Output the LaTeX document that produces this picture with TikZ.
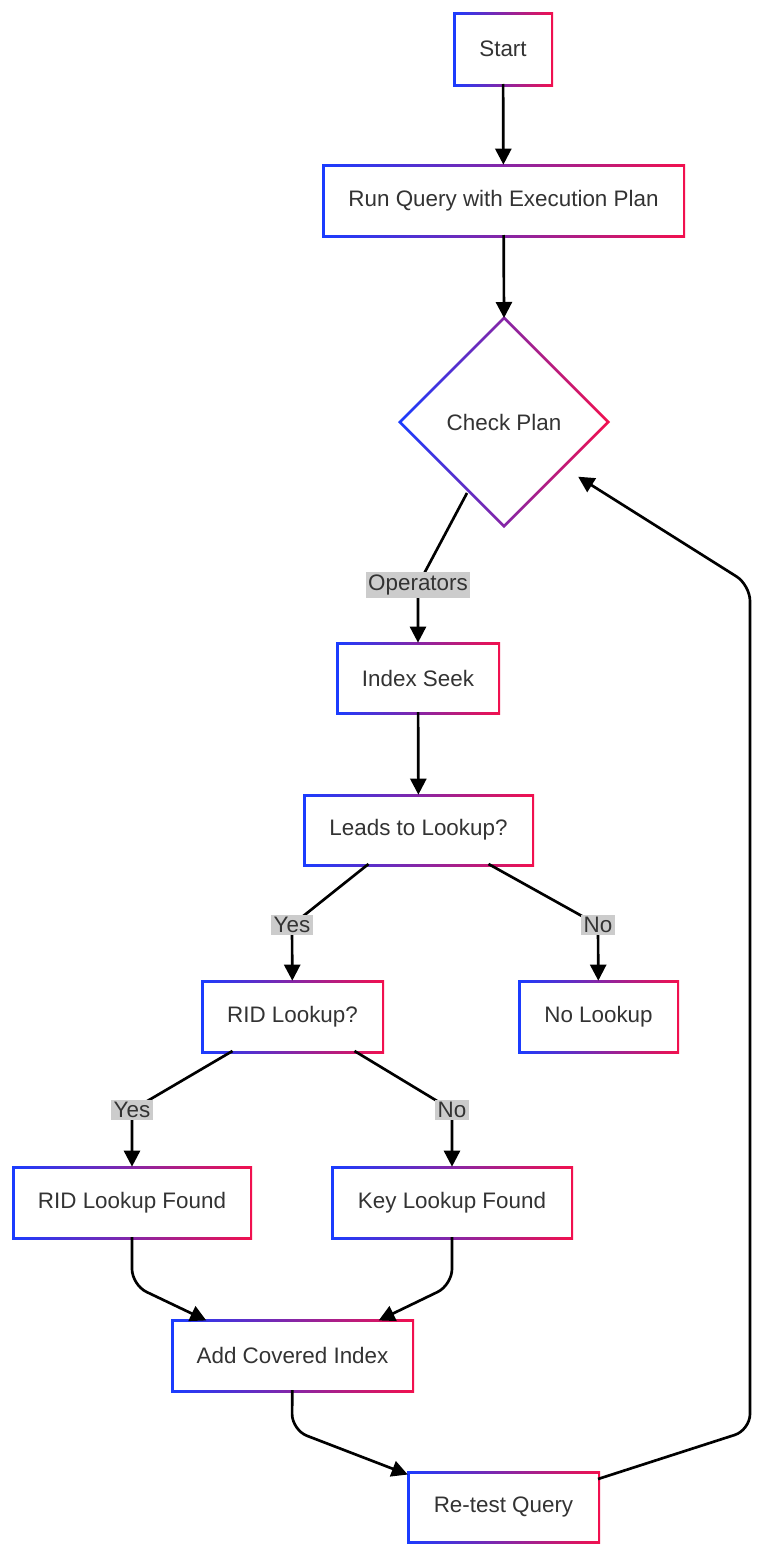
\documentclass[tikz,border=0pt]{standalone}
\usepackage{fontspec}
\setmainfont{Liberation Sans}
\usetikzlibrary{arrows.meta,calc}
\definecolor{gblue}{HTML}{1A3CFF}
\definecolor{gred}{HTML}{F2104E}
\definecolor{txt}{HTML}{333333}
\tikzset{every picture/.style={line width=0.75pt}}
\tikzset{
  box/.style={rectangle,fill=white,inner sep=0pt,text=txt,font=\fontsize{16.8}{20}\selectfont},
  lbl/.style={fill=black!20,inner sep=2pt,text=txt,font=\fontsize{16.8}{20}\selectfont},
  arr/.style={line width=2pt,rounded corners=12pt,-{Triangle[length=12pt,width=12pt]},shorten >=1pt},
}
% name, cx, cy, w, h, text
\newcommand\gbox[6]{%
  \shade[left color=gblue,right color=gred] (#2-#4/2,#3-#5/2) rectangle (#2+#4/2,#3+#5/2);
  \node[box,minimum width=(#4-5)*0.75pt,minimum height=(#5-5)*0.75pt] (#1) at (#2,#3) {#6};}

\begin{document}
\begin{tikzpicture}[x=0.75pt,y=0.75pt,yscale=-1,xscale=1]
\useasboundingbox (0,0) rectangle (768,1563);
% boxes
\gbox{start}{503}{49}{100}{74}{Start}
\gbox{run}{503.5}{200.5}{363}{73}{Run Query with Execution Plan}
% diamond
\shade[left color=gblue,right color=gred] (398,422) -- (504,316) -- (610,422) -- (504,528) -- cycle;
\fill[white] (402,422) -- (504,320) -- (606,422) -- (504,524) -- cycle;
\node[box] (plan) at (504,422) {Check Plan};
\coordinate (plantop) at (504,318);
\coordinate (planbl) at (467,493);
\coordinate (planbr) at (577,476);
\gbox{seek}{418}{678}{164}{72}{Index Seek}
\gbox{leads}{418.5}{830}{231}{72}{Leads to Lookup?}
\gbox{rid}{292.5}{1016.5}{183}{73}{RID Lookup?}
\gbox{nolook}{598.5}{1016.5}{161}{73}{No Lookup}
\gbox{ridf}{132}{1202.5}{240}{73}{RID Lookup Found}
\gbox{keyf}{452}{1202.5}{242}{73}{Key Lookup Found}
\gbox{addci}{292.5}{1355.5}{243}{73}{Add Covered Index}
\gbox{retest}{503.5}{1507}{193}{72}{Re-test Query}
% bend points
\coordinate (b1) at (418,585);
\coordinate (b2) at (292,925);
\coordinate (b3) at (598,925);
\coordinate (b4) at (132,1110);
\coordinate (b5) at (452,1110);
\coordinate (b6) at (132,1285);
\coordinate (b7) at (452,1285);
\coordinate (b8) at (292,1430);
\coordinate (b9) at (750,1430);
\coordinate (b10) at (750,585);
% connectors
\draw[arr] (start) -- (run);
\draw[arr,shorten >=0pt] (run) -- (plantop);
\draw[arr,rounded corners=0pt] (planbl) -- (b1) -- (seek);
\draw[arr] (seek) -- (leads);
\draw[arr,rounded corners=0pt] ($(leads.south)+(-50,0)$) -- (b2) -- (rid);
\draw[arr,rounded corners=0pt] ($(leads.south)+(70,0)$) -- (b3) -- (nolook);
\draw[arr,rounded corners=0pt] ($(rid.south)+(-60,0)$) -- (b4) -- (ridf);
\draw[arr,rounded corners=0pt] ($(rid.south)+(62,0)$) -- (b5) -- (keyf);
\draw[arr] (ridf) -- (b6) -- ($(addci.north)+(-85,0)$);
\draw[arr] (keyf) -- (b7) -- ($(addci.north)+(85,0)$);
\draw[arr] (addci) -- (b8) -- ($(retest.north west)+(0,2)$);
\draw[arr] ($(retest.north east)+(0,6)$) -- (b9) -- (b10) -- (planbr);
% labels
\node[lbl] (l1) at (b1) {Operators};
\node[lbl] (l2) at (b2) {Yes};
\node[lbl] (l3) at (b3) {No};
\node[lbl] (l4) at (b4) {Yes};
\node[lbl] (l5) at (b5) {No};
\end{tikzpicture}
\end{document}
